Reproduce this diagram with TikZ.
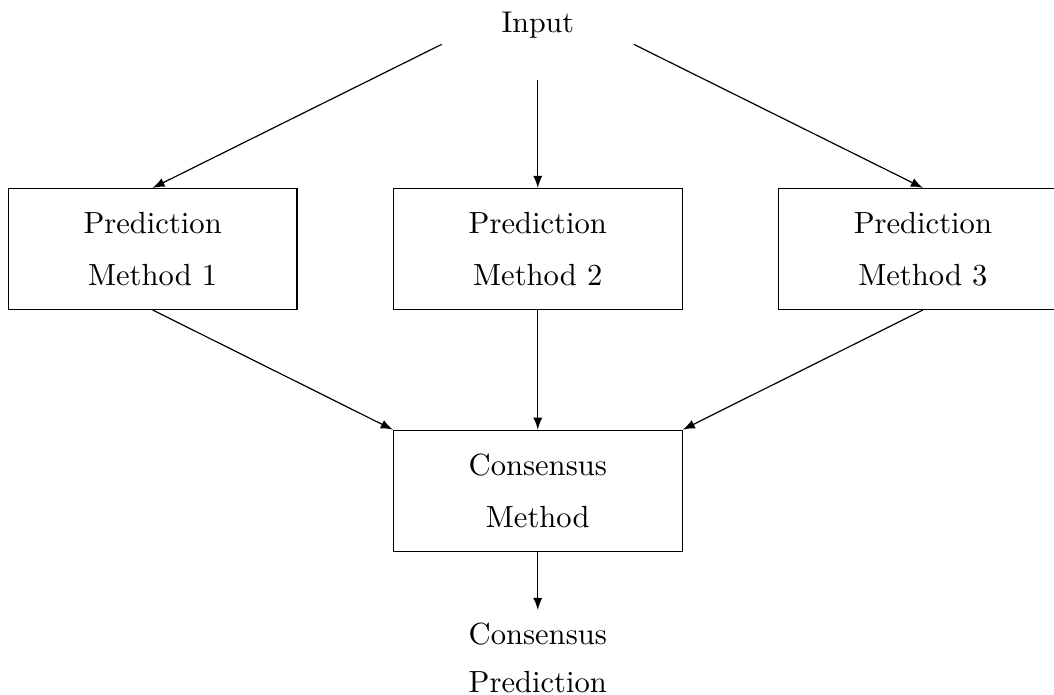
\documentclass[tikz,border=0pt]{standalone}
\usetikzlibrary{positioning}

\begin{document}
\begin{tikzpicture}[
        every path/.style = {-latex}, % Стрелки на всех линиях
        method/.style={draw, rectangle, align=center, minimum width=96.3pt, minimum height=40.3pt, inner sep=0pt, font=\fontsize{10.2}{17.2}\selectfont}, % Стиль блоков
        inp/.style={inner sep=0pt, minimum width=63.7pt, text height=8pt, text depth=15.6pt},
        outp/.style={align=center, inner xsep=3.3pt, inner ysep=4pt, font=\fontsize{10.2}{16.1}\selectfont},
    ]
    \useasboundingbox (-179.3pt,-148.7pt) rectangle (172.1pt,83pt);

    \node[method] (m2) at (0,0) {Prediction\\Method 2};
    \node[method, left=31.7pt of m2] (m1) {Prediction\\Method 1};
    \node[method, right=31.7pt of m2] (m3) {Prediction\\Method 3};
    \node[inp, above=35.85pt of m2] (input) {Input};
    \node[method, below=39.9pt of m2] (cons) {Consensus\\Method};
    \node[outp, below=19.4pt of cons] (result) {Consensus\\Prediction};

    \draw (input.west) -- (m1.north);
    \draw (input.south) -- (m2.north);
    \draw (input.east) -- (m3.north);
    \draw (m1.south) -- (cons.north west);
    \draw (m2.south) -- (cons.north);
    \draw (m3.south) -- (cons.north east);
    \draw (cons.south) -- (result.north);
\end{tikzpicture}
\end{document}
